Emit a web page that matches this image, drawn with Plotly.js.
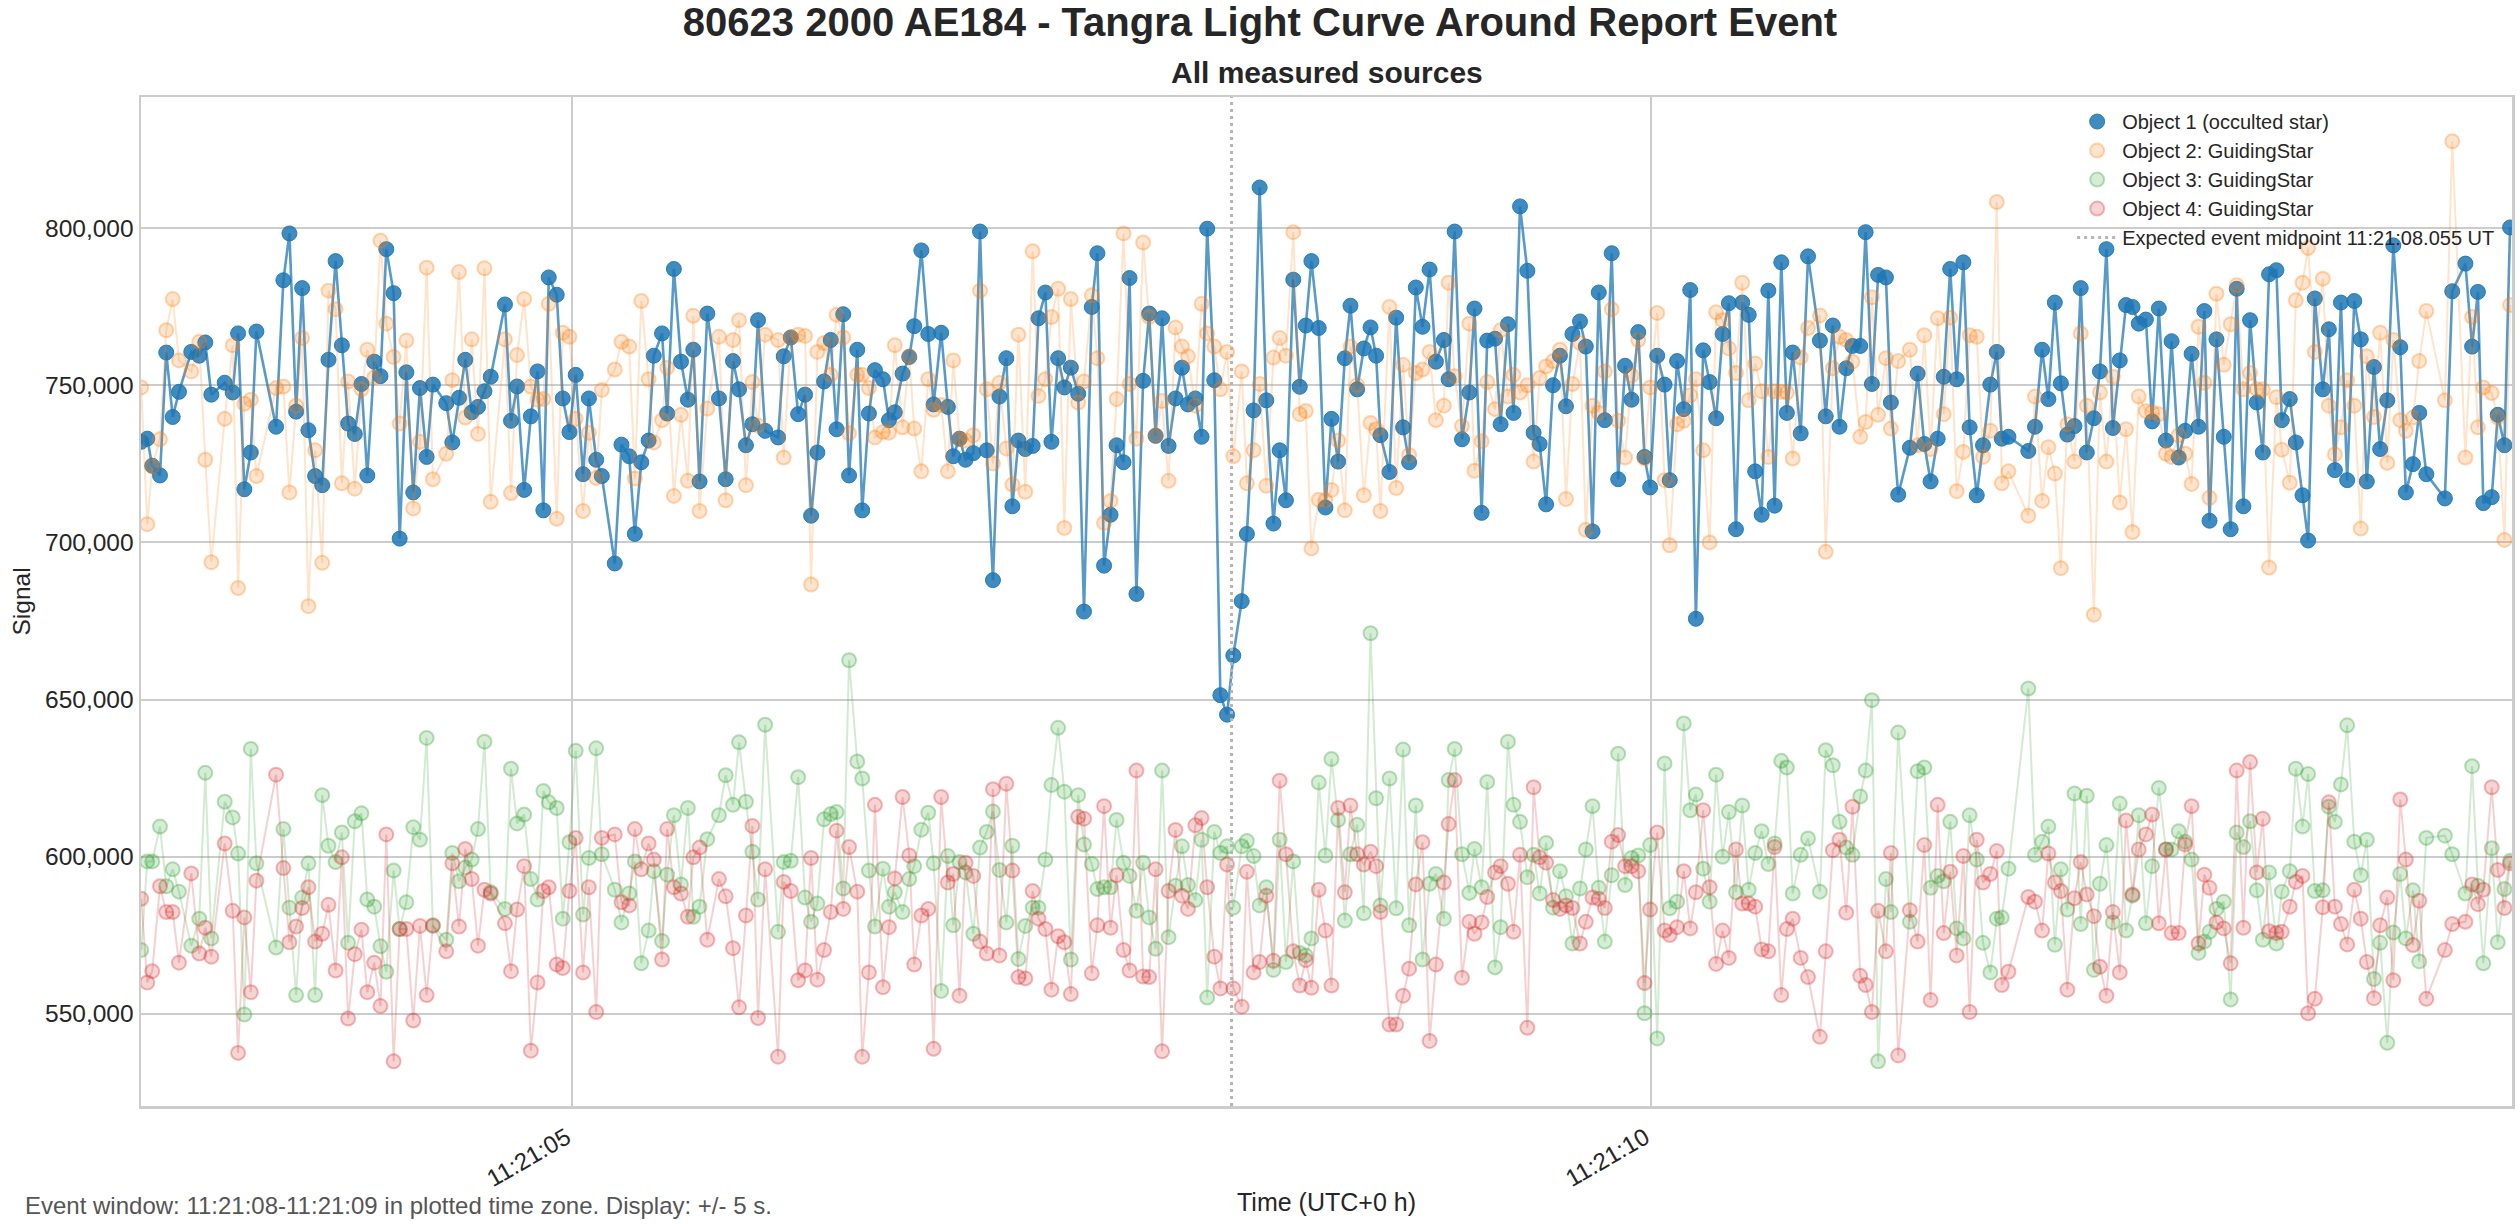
<!DOCTYPE html>
<html>
<head>
<meta charset="utf-8">
<script src="https://cdn.plot.ly/plotly-3.0.1.min.js"></script>
<style>
  html, body { margin: 0; padding: 0; background: #fff; }
  #chart { width: 2520px; height: 1224px; }
</style>
</head>
<body>
<div id="chart"></div>
<script>
// frame times, seconds after 11:21:00 UTC (some frames are missing)
const frameSec = [
  3.001, 3.029, 3.052, 3.088, 3.117, 3.147, 3.176, 3.233, 3.270, 3.298, 3.326, 3.388, 3.425, 3.450, 3.479,
  3.509, 3.535, 3.626, 3.660, 3.688, 3.719, 3.747, 3.776, 3.807, 3.840, 3.869, 3.902, 3.931, 3.960, 3.991,
  4.022, 4.049, 4.081, 4.110, 4.137, 4.171, 4.199, 4.230, 4.262, 4.293, 4.324, 4.353, 4.415, 4.443, 4.474,
  4.503, 4.533, 4.562, 4.592, 4.621, 4.687, 4.715, 4.743, 4.776, 4.807, 4.838, 4.865, 4.890,
  4.927, 4.955, 4.986, 5.015, 5.049, 5.076, 5.110, 5.136, 5.196, 5.227, 5.263, 5.289, 5.319, 5.353, 5.377,
  5.415, 5.439, 5.470, 5.503, 5.535, 5.560, 5.589, 5.625, 5.679, 5.710, 5.744, 5.772, 5.804, 5.834, 5.860,
  5.893, 5.953, 5.979, 6.012, 6.046, 6.078, 6.106, 6.135, 6.166, 6.197, 6.224, 6.255, 6.282, 6.320, 6.343,
  6.374, 6.402, 6.439, 6.467, 6.494, 6.530, 6.561, 6.584, 6.617, 6.649, 6.674, 6.709, 6.740, 6.765, 6.794,
  6.822, 6.858, 6.889, 6.920, 6.949, 6.979, 7.011, 7.039, 7.067, 7.099, 7.133, 7.160, 7.192, 7.220, 7.251,
  7.280, 7.310, 7.344, 7.371, 7.407, 7.433, 7.464, 7.494, 7.522, 7.554, 7.582, 7.614, 7.645, 7.673, 7.703,
  7.733, 7.763, 7.795, 7.825, 7.853, 7.887, 7.916, 7.942, 7.975, 8.003, 8.034, 8.063, 8.102, 8.126, 8.157,
  8.185, 8.216, 8.249, 8.278, 8.307, 8.341, 8.371, 8.399, 8.425, 8.459, 8.490, 8.518, 8.549, 8.580, 8.606,
  8.637, 8.668, 8.699, 8.725, 8.745,
  8.787, 8.818, 8.850, 8.878, 8.909, 8.940, 8.973, 9.002, 9.039, 9.061, 9.089, 9.123, 9.157, 9.181, 9.214,
  9.240, 9.276, 9.302, 9.336, 9.362, 9.392, 9.426, 9.455, 9.483, 9.513, 9.545, 9.577, 9.605, 9.635, 9.670,
  9.697, 9.728, 9.757, 9.785, 9.817, 9.847, 9.879, 9.909, 9.940, 9.969, 9.995, 10.028, 10.062, 10.086, 10.120,
  10.151, 10.181, 10.207, 10.241, 10.271, 10.301, 10.331, 10.360, 10.393, 10.422, 10.452, 10.482, 10.512, 10.543, 10.572,
  10.603, 10.629, 10.656,
  10.693, 10.727, 10.782, 10.809, 10.842, 10.873, 10.904, 10.933, 10.969, 10.994, 11.023, 11.052, 11.088, 11.111, 11.145,
  11.199, 11.235, 11.266, 11.295, 11.328, 11.356, 11.386, 11.416, 11.447, 11.476, 11.509, 11.538, 11.572, 11.602, 11.625,
  11.656, 11.748, 11.779, 11.812, 11.841, 11.871, 11.899, 11.929, 11.962, 11.991, 12.019, 12.052, 12.080, 12.110, 12.140,
  12.172, 12.201, 12.231, 12.260, 12.293, 12.322, 12.353, 12.386, 12.412, 12.445, 12.475, 12.505, 12.537, 12.564, 12.588,
  12.620, 12.654, 12.686, 12.714, 12.745, 12.776, 12.807, 12.835, 12.864, 12.898, 12.923, 12.960, 12.988, 13.019, 13.045,
  13.076, 13.113, 13.141, 13.169, 13.197, 13.226, 13.259, 13.289, 13.317, 13.350, 13.379, 13.412, 13.440, 13.472, 13.498,
  13.531, 13.560, 13.593, 13.679, 13.713, 13.774, 13.805, 13.832, 13.857, 13.896, 13.924, 13.955, 13.981
];

// signals in thousands
const obj1K = [
  732, 733, 724.4, 721.3, 760.4, 739.9, 747.9, 760.6, 759.4, 763.6, 747.0, 750.8, 747.7, 766.5, 716.9,
  728.6, 767.1, 736.8, 783.4, 798.3, 741.6, 780.9, 735.7, 721.1, 718.2, 758.1, 789.5, 762.7, 737.8, 734.5,
  750.4, 721.3, 757.5, 752.9, 793.3, 779.3, 701.2, 754.1, 715.9, 749.1, 727.2, 750.2, 744.3, 731.8, 746.0,
  758.1, 741.4, 743.1, 748.1, 752.7, 775.7, 738.7, 749.6, 716.7, 740.1, 754.4, 710.2, 784.3,
  778.8, 745.8, 735.1, 753.3, 721.7, 745.8, 726.3, 721.1, 693.3, 731.1, 727.4, 702.7, 725.5, 732.4, 759.4,
  766.5, 741.0, 787.0, 757.5, 745.4, 761.3, 719.4, 772.8, 745.8, 720.1, 757.7, 748.7, 730.9, 737.6, 770.7,
  735.5, 733.4, 759.2, 765.2, 740.8, 747.0, 708.5, 728.6, 751.2, 764.4, 736.0, 772.6, 721.3, 761.3, 710.2,
  741.0, 754.8, 751.9, 738.9, 741.4, 753.7, 759.0, 768.8, 792.9, 766.3, 743.9, 766.7, 743.1, 727.4, 733.0,
  726.3, 728.4, 798.9, 729.3, 688.0, 746.4, 758.6, 711.5, 732.4, 729.7, 730.7, 771.3, 779.5, 732.0, 758.6,
  749.3, 755.6, 747.3, 678.0, 774.9, 792.0, 692.6, 708.8, 730.9, 725.5, 784.1, 683.6, 751.4, 772.8, 733.9,
  771.3, 730.7, 745.8, 755.6, 743.9, 745.8, 733.6, 799.8, 751.6, 651.4, 645.2, 664.0, 681.3, 702.7, 742.0,
  812.9, 745.2, 706.0, 729.3, 713.4, 783.6, 749.5, 769.0, 789.5, 768.2, 711.1, 739.3, 725.7, 758.6, 775.3,
  748.7, 761.7, 768.4, 759.4, 734.1,
  722.4, 771.5, 736.6, 725.5, 781.1, 768.6, 786.8, 757.5, 764.4, 751.9, 798.9, 732.8, 747.7, 774.4, 709.4,
  764.2, 764.8, 737.6, 769.4, 741.2, 806.9, 786.4, 734.9, 731.3, 712.1, 750.0, 759.4, 743.3, 766.3, 770.3,
  762.3, 703.5, 779.5, 738.9, 792.0, 720.1, 756.2, 745.4, 766.9, 727.2, 717.5, 759.4, 750.2, 719.8, 757.7,
  742.4, 780.3, 675.7, 761.1, 751.0, 739.5, 766.3, 776.1, 704.2, 776.3, 772.4, 722.6, 708.8, 780.1, 711.7,
  789.1, 741.2, 760.4,
  734.7, 791.0, 764.2, 740.1, 769.0, 736.8, 755.4, 762.5, 762.5, 798.7, 750.4, 785.1, 784.3, 744.5, 715.2,
  730.1, 753.7, 731.3, 719.4, 733.0, 752.7, 787.0, 751.9, 789.1, 736.6, 715.0, 730.9, 750.2, 760.6, 733.0,
  733.6, 729.1, 736.8, 761.3, 745.6, 776.3, 750.6, 734.3, 737.0, 780.9, 728.6, 739.5, 754.4, 793.3, 736.4,
  757.9, 775.5, 774.9, 769.6, 770.9, 738.5, 774.4, 732.4, 764.0, 727.0, 735.5, 760.0, 736.8, 773.6, 706.9,
  764.6, 733.6, 704.2, 780.7, 711.5, 770.7, 744.5, 728.6, 785.3, 786.6, 738.9, 745.6, 731.8, 715.0, 700.6,
  777.6, 748.7, 767.8, 723.0, 776.3, 719.8, 776.8, 764.6, 719.4, 755.8, 729.7, 745.2, 794.5, 762.1, 715.9,
  724.9, 741.2, 721.7, 714.0, 779.9, 788.7, 762.3, 779.7, 712.5, 714.4, 740.6, 730.9, 800.2
];

const obj2K = [
  749.3, 705.8, 724.2, 732.8, 767.5, 777.4, 757.9, 754.4, 763.8, 726.3, 693.7, 739.3, 762.7, 685.5, 744.1,
  745.4, 721.1, 749.1, 749.6, 715.9, 743.5, 765.0, 679.7, 729.3, 693.5, 780.1, 774.2, 718.8, 751.2, 717.1,
  748.7, 761.3, 752.5, 796.0, 769.6, 759.0, 737.8, 764.2, 710.8, 732.0, 787.4, 720.1, 728.2, 751.6, 786.0,
  739.7, 764.6, 734.5, 787.2, 712.9, 764.6, 715.7, 759.6, 777.4, 749.6, 745.4, 745.6, 775.9,
  707.5, 766.7, 765.4, 739.3, 710.0, 734.9, 720.5, 748.5, 755.0, 763.8, 762.3, 720.3, 776.8, 751.9, 731.8,
  738.9, 755.6, 714.8, 740.6, 719.6, 772.1, 710.0, 742.6, 765.4, 713.4, 764.4, 770.7, 718.2, 751.0, 737.2,
  766.1, 764.4, 727.0, 765.2, 766.1, 765.7, 686.6, 760.6, 763.4, 753.3, 772.4, 765.2, 734.7, 753.3, 753.3,
  749.1, 733.4, 735.1, 734.9, 762.7, 736.6, 759.2, 736.2, 722.6, 751.9, 742.2, 743.7, 722.6, 757.9, 733.0,
  732.4, 734.1, 780.1, 748.7, 725.1, 750.8, 729.9, 718.4, 766.1, 716.1, 792.6, 746.6, 751.9, 771.7, 780.7,
  704.6, 777.4, 744.5, 751.2, 778.6, 758.6, 706.2, 713.2, 745.6, 798.3, 750.4, 733.0, 795.4, 771.7, 734.1,
  745.0, 719.6, 768.4, 762.3, 759.2, 743.5, 775.9, 766.5, 762.3, 748.7, 760.6, 727.4, 754.4, 718.8, 729.3,
  750.4, 718.0, 758.8, 765.0, 759.4, 798.7, 740.8, 741.8, 698.1, 713.6, 713.4, 716.7, 732.4, 710.2, 762.3,
  750.0, 715.0, 738.0, 736.0, 710.0,
  774.9, 717.3, 756.5, 727.8, 753.9, 755.0, 760.6, 738.9, 743.5, 782.6, 752.9, 737.0, 769.6, 722.8, 732.2,
  751.0, 742.4, 767.5, 746.4, 753.3, 747.7, 750.0, 725.7, 752.3, 756.0, 757.7, 761.3, 713.8, 750.4, 763.4,
  704.0, 743.5, 741.2, 754.4, 774.2, 738.7, 727.0, 753.1, 764.4, 726.7, 749.3, 773.0, 719.8, 699.1, 737.6,
  738.7, 746.8, 751.9, 729.3, 700.0, 773.2, 770.7, 761.7, 753.9, 782.6, 745.2, 756.9, 748.1, 727.2, 748.1,
  747.9, 747.7, 726.7,
  758.8, 768.2, 772.2, 697.0, 755.4, 765.4, 764.4, 757.5, 733.6, 738.3, 778.0, 740.6, 758.6, 736.2, 757.7,
  761.3, 730.9, 765.9, 729.7, 771.3, 740.8, 771.5, 716.3, 728.8, 765.9, 765.4, 727.2, 735.5, 808.3, 718.8,
  722.6, 708.5, 746.4, 713.2, 730.3, 721.9, 691.8, 737.6, 725.7, 766.5, 743.5, 677.0, 747.7, 725.7, 752.7,
  712.7, 736.0, 703.3, 746.4, 741.8, 741.4, 740.8, 728.2, 727.2, 734.1, 728.2, 718.6, 768.6, 750.8, 714.2,
  779.1, 756.5, 769.4, 781.8, 748.7, 753.9, 748.7, 748.7, 692.0, 746.2, 729.5, 719.0, 777.0, 782.6, 793.7,
  760.6, 783.9, 743.5, 728.0, 736.6, 751.6, 743.5, 704.4, 759.2, 739.9, 766.7, 725.3, 764.4, 738.9, 735.5,
  739.7, 757.7, 773.6, 745.2, 827.6, 727.0, 771.7, 736.6, 749.3, 747.5, 739.7, 700.8, 775.5
];

const obj3K = [
  570.3, 598.5, 598.5, 609.6, 590.6, 596.0, 588.9, 571.7, 580.3, 626.7, 574.0, 617.5, 612.5, 601.0, 549.8,
  634.3, 597.9, 571.1, 608.8, 583.8, 556.0, 587.0, 597.9, 556.0, 619.6, 603.5, 598.3, 607.7, 572.6, 611.3,
  613.8, 586.4, 584.1, 571.5, 563.4, 595.6, 577.0, 585.5, 609.4, 605.4, 637.8, 578.0, 573.6, 601.2, 592.2,
  596.6, 599.1, 608.8, 636.6, 588.7, 583.4, 628.0, 610.6, 613.4, 592.9, 586.4, 620.9, 617.3,
  615.5, 580.3, 604.6, 633.7, 581.6, 599.6, 634.5, 600.8, 589.5, 579.1, 588.3, 598.5, 566.1, 576.5, 595.4,
  573.2, 594.3, 613.2, 591.2, 615.5, 580.9, 584.1, 605.6, 613.2, 625.9, 616.5, 636.4, 617.5, 601.6, 586.4,
  642.0, 576.1, 598.3, 598.7, 625.3, 587.0, 579.3, 585.1, 611.9, 613.6, 614.2, 589.9, 662.5, 630.3, 624.9,
  595.6, 577.8, 596.2, 584.1, 588.7, 582.4, 592.9, 597.0, 608.6, 614.0, 597.9, 557.3, 600.2, 578.2, 598.3,
  595.0, 575.5, 602.9, 607.9, 614.4, 595.8, 579.1, 603.5, 567.5, 578.0, 583.8, 583.8, 599.1, 622.8, 641.0,
  620.7, 567.3, 619.6, 603.9, 597.7, 589.7, 590.3, 590.3, 611.7, 598.1, 593.9, 582.8, 598.1, 580.7, 570.7,
  627.4, 574.4, 590.8, 603.3, 591.0, 586.2, 605.4, 555.2, 607.9, 601.2, 603.3, 583.8, 603.3, 605.0, 600.2,
  584.5, 590.3, 564.0, 605.4, 566.5, 598.5, 569.4, 568.6, 574.0, 623.6, 600.4, 631.1, 611.7, 579.7, 600.8,
  610.2, 582.0, 671.1, 618.6, 584.5,
  624.9, 583.6, 634.1, 578.2, 616.3, 567.3, 591.4, 594.5, 580.3, 624.4, 634.3, 600.8, 588.5, 602.5, 590.3,
  623.8, 564.8, 577.6, 636.6, 616.5, 611.1, 593.5, 600.6, 588.3, 604.4, 583.8, 595.4, 587.4, 572.4, 589.9,
  602.3, 616.1, 590.1, 573.0, 594.1, 632.8, 591.0, 599.6, 600.4, 550.2, 603.7, 542.2, 629.7, 583.6, 585.7,
  642.4, 614.8, 619.8, 596.2, 585.7, 626.1, 600.0, 614.2, 588.7, 616.3, 589.5, 601.2, 608.1, 597.7, 604.2,
  630.5, 628.4, 588.3,
  600.6, 605.8, 588.9, 633.9, 629.1, 611.1, 602.9, 600.6, 619.2, 627.4, 649.8, 534.9, 592.9, 582.4, 639.5,
  579.3, 627.2, 628.4, 590.1, 593.9, 592.2, 611.1, 577.2, 574.0, 613.2, 599.1, 572.6, 563.2, 580.3, 580.7,
  596.2, 653.5, 600.6, 604.8, 609.6, 572.0, 596.0, 583.2, 620.1, 578.6, 619.4, 564.0, 591.4, 603.7, 579.1,
  616.9, 576.5, 587.6, 613.2, 578.8, 597.0, 621.9, 602.3, 602.3, 608.1, 604.8, 599.1, 569.4, 573.0, 576.1,
  583.4, 585.7, 554.6, 607.7, 603.1, 611.3, 589.3, 573.6, 595.0, 572.4, 588.9, 595.4, 628.0, 609.6, 626.3,
  589.1, 589.3, 615.9, 611.1, 623.0, 641.8, 604.8, 594.1, 605.4, 561.1, 572.6, 540.8, 575.9, 594.5, 574.0,
  589.3, 566.7, 606.0, 606.7, 600.8, 588.3, 628.8, 590.8, 566.1, 602.7, 572.8, 589.7, 598.7
];

const obj4K = [
  586.6, 560.0, 563.6, 590.6, 582.4, 582.4, 566.3, 594.7, 569.2, 577.4, 568.2, 604.2, 582.8, 537.6, 580.7,
  556.9, 592.4, 626.1, 596.4, 572.8, 577.8, 583.7, 590.3, 573.0, 575.5, 584.7, 563.8, 599.8, 548.5, 569.0,
  576.8, 556.9, 566.3, 552.5, 607.1, 534.9, 577.0, 577.0, 547.9, 578.0, 556.0, 578.2, 569.9, 597.9, 577.8,
  602.5, 592.9, 571.7, 589.5, 588.3, 578.8, 563.6, 583.2, 597.0, 538.3, 560.0, 589.1, 590.3,
  565.7, 564.6, 589.1, 606.0, 563.2, 590.3, 550.6, 606.0, 607.1, 585.5, 584.5, 608.8, 596.0, 604.2, 599.1,
  567.3, 608.8, 590.3, 588.3, 580.9, 599.8, 602.9, 573.6, 592.9, 587.4, 570.9, 552.1, 581.3, 609.8, 548.7,
  596.0, 536.4, 592.0, 589.1, 560.7, 563.8, 599.6, 560.9, 570.3, 582.4, 608.3, 583.4, 603.1, 588.9, 536.4,
  563.2, 616.5, 558.5, 577.6, 593.1, 619.0, 600.4, 565.7, 581.3, 583.4, 538.9, 619.0, 591.8, 594.5, 555.8,
  598.1, 593.9, 573.0, 569.2, 621.5, 568.6, 623.2, 595.6, 561.7, 561.3, 589.1, 580.3, 577.0, 557.7, 574.7,
  572.8, 556.3, 612.7, 612.1, 562.9, 578.2, 616.1, 577.4, 594.1, 570.3, 563.8, 627.4, 561.9, 561.7, 596.0,
  538.1, 589.1, 608.5, 587.6, 583.4, 610.0, 612.3, 590.3, 568.2, 558.1, 597.5, 558.1, 552.3, 595.2, 563.2,
  566.5, 587.6, 566.9, 624.2, 600.8, 569.9, 559.0, 567.1, 558.3, 589.5, 576.5, 559.0, 615.5, 588.7, 616.3,
  600.8, 597.5, 601.6, 597.0, 582.4,
  546.6, 546.6, 555.8, 564.4, 591.2, 604.6, 541.4, 565.7, 591.8, 610.4, 624.4, 561.5, 579.3, 575.5, 579.1,
  587.2, 595.0, 597.0, 591.4, 576.1, 600.6, 545.6, 622.1, 599.8, 598.1, 586.2, 583.4, 584.5, 583.7, 572.4,
  579.3, 587.0, 586.6, 583.7, 604.8, 606.9, 597.0, 597.0, 595.4, 559.8, 583.2, 607.7, 576.5, 575.1, 577.6,
  595.4, 577.2, 588.7, 614.8, 590.3, 565.9, 576.5, 567.8, 602.3, 585.1, 585.1, 584.1, 570.5, 569.9, 603.1,
  556.0, 577.0, 580.3,
  567.8, 561.7, 542.7, 569.9, 602.1, 605.4, 582.2, 615.9, 562.1, 559.2, 550.6, 582.8, 569.9, 601.2, 536.8,
  583.0, 573.0, 603.7, 554.4, 616.5, 575.7, 595.2, 568.6, 600.2, 550.6, 605.4, 591.8, 594.5, 601.8, 559.2,
  563.4, 587.2, 585.7, 576.5, 601.0, 591.8, 589.1, 557.7, 586.8, 598.3, 588.0, 581.1, 565.0, 555.8, 582.4,
  563.2, 611.5, 588.0, 602.3, 607.1, 613.4, 578.8, 602.3, 575.7, 575.7, 603.9, 616.1, 572.4, 594.3, 590.1,
  579.1, 577.2, 566.1, 627.4, 577.4, 630.1, 595.0, 612.1, 576.3, 575.7, 576.1, 584.1, 592.0, 593.9, 550.2,
  554.8, 583.9, 617.3, 584.1, 578.6, 572.1, 589.5, 580.3, 566.5, 555.0, 578.2, 587.0, 560.7, 618.2, 599.1,
  571.9, 586.0, 554.8, 570.3, 578.6, 579.3, 591.2, 584.9, 589.5, 622.1, 595.8, 583.7, 597.9
];

const seriesNames = ['Object 1 (occulted star)', 'Object 2: GuidingStar', 'Object 3: GuidingStar', 'Object 4: GuidingStar'];
const eventMidSec = 8.055;
const eventLabel = 'Expected event midpoint 11:21:08.055 UT';
const footText = 'Event window: 11:21:08-11:21:09 in plotted time zone. Display: +/- 5 s.';

const FONT = '"Liberation Sans", Arial, "DejaVu Sans", sans-serif';
const INK = '#262626';

function stamp(sec) {
    const s = sec < 10 ? '0' + sec.toFixed(3) : sec.toFixed(3);
    return '2000-01-01 11:21:' + s;
}

const xs = frameSec.map(stamp);
const rgb = ['31,119,180', '255,127,14', '44,160,44', '214,39,40'];
const allK = [obj1K, obj2K, obj3K, obj4K];

const traces = [];
allK.forEach((vals, i) => {
    const ys = vals.map(v => v * 1000);
    const main = i === 0;
    // line first, markers on top (legend only shows the marker)
    traces.push({
        x: xs, y: ys, type: 'scatter', mode: 'lines', showlegend: false, hoverinfo: 'skip',
        line: { color: `rgba(${rgb[i]},${main ? 0.75 : 0.22})`, width: main ? 2.6 : 2 }
    });
    traces.push({
        x: xs, y: ys, type: 'scatter', mode: 'markers', name: seriesNames[i],
        marker: {
            size: main ? 15 : 14,
            color: `rgba(${rgb[i]},${main ? 0.85 : 0.2})`,
            line: { color: `rgba(${rgb[i]},${main ? 0.9 : 0.32})`, width: main ? 1 : 2 }
        }
    });
});

const layout = {
    width: 2520, height: 1224,
    margin: { l: 141, r: 8, t: 97, b: 118 },
    paper_bgcolor: '#ffffff', plot_bgcolor: '#ffffff',
    font: { family: FONT, color: INK, size: 24 },
    title: {
        text: '80623 2000 AE184 - Tangra Light Curve Around Report Event',
        font: { family: FONT, size: 40, color: INK, weight: 'bold' },
        x: 0.5, xref: 'container', xanchor: 'center',
        y: 1 - 22 / 1224, yref: 'container', yanchor: 'middle'
    },
    xaxis: {
        type: 'date', range: [stamp(3.0), stamp(13.99)],
        tick0: stamp(5), dtick: 5000, tickformat: '%H:%M:%S', tickangle: -30,
        tickfont: { size: 24, color: INK }, ticklabelshift: -6, ticklabelstandoff: 6,
        showgrid: true, gridcolor: '#cccccc', gridwidth: 2,
        showline: true, linecolor: '#cccccc', linewidth: 2.5, mirror: true,
        zeroline: false, ticks: ''
    },
    yaxis: {
        range: [520700, 841700], tick0: 0, dtick: 50000, tickformat: ',d',
        tickfont: { size: 24.5, color: INK },
        showgrid: true, gridcolor: '#cccccc', gridwidth: 2,
        showline: true, linecolor: '#cccccc', linewidth: 2.5, mirror: true,
        zeroline: false, ticks: ''
    },
    legend: {
        x: 0.995, xanchor: 'right', y: 0.995, yanchor: 'top',
        bgcolor: 'rgba(0,0,0,0)', borderwidth: 0,
        font: { size: 20, color: INK, family: FONT },
        itemwidth: 40, tracegroupgap: 0
    },
    shapes: [{
        type: 'line', xref: 'x', yref: 'paper',
        x0: stamp(eventMidSec), x1: stamp(eventMidSec), y0: 0, y1: 1,
        line: { color: '#b5b5b5', width: 3, dash: '3px,4px' },
        showlegend: true, name: eventLabel, legendrank: 2000
    }],
    annotations: [
        { text: '<b>All measured sources</b>', xref: 'paper', yref: 'paper', x: 0.5, y: 1 + 25 / 1009,
          xanchor: 'center', yanchor: 'middle', showarrow: false, font: { size: 30, color: INK } },
        { text: 'Signal', xref: 'paper', yref: 'paper', x: 0, y: 0.5, xshift: -120, textangle: -90,
          xanchor: 'center', yanchor: 'middle', showarrow: false, font: { size: 24.5, color: INK } },
        { text: 'Time (UTC+0 h)', xref: 'paper', yref: 'paper', x: 0.5, y: -96 / 1009,
          xanchor: 'center', yanchor: 'middle', showarrow: false, font: { size: 25, color: INK } },
        { text: footText, xref: 'paper', yref: 'paper', x: -118 / 2371, y: -99 / 1009,
          xanchor: 'left', yanchor: 'middle', showarrow: false, font: { size: 24, color: '#555555' } }
    ]
};

Plotly.newPlot('chart', traces, layout, { displayModeBar: false, staticPlot: true });
</script>
</body>
</html>
